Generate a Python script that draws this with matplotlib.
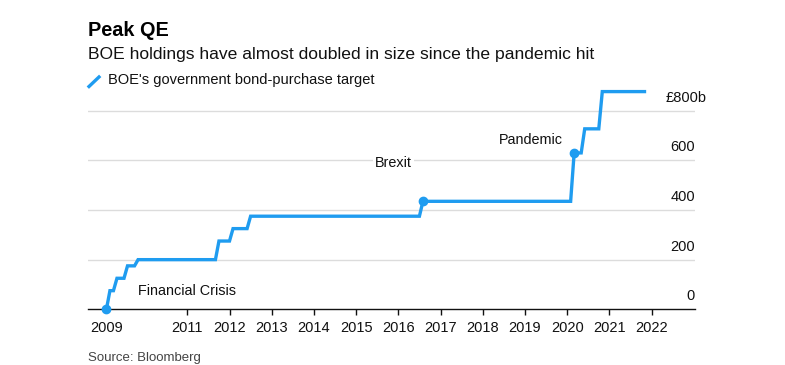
import matplotlib
matplotlib.use("Agg")
import matplotlib.pyplot as plt
from matplotlib.lines import Line2D
from matplotlib import transforms

plt.rcParams['font.family'] = ['Liberation Sans', 'DejaVu Sans']

# ---- data ----
months = ["2009-02", "2009-03", "2009-04", "2009-05", "2009-07", "2009-08",
          "2009-10", "2009-11", "2011-09", "2011-10", "2012-01", "2012-02",
          "2012-06", "2012-07", "2016-07", "2016-08", "2020-02", "2020-03",
          "2020-05", "2020-06", "2020-10", "2020-11", "2021-11"]
target_bn = [0, 75, 75, 125, 125, 175,
             175, 200, 200, 275, 275, 325,
             325, 375, 375, 435, 435, 630,
             630, 727, 727, 877, 877]
marked_months = ["2009-02", "2016-08", "2020-03"]
year_ticks = [2011, 2012, 2013, 2014, 2015, 2016, 2017, 2018, 2019, 2020, 2021, 2022]
y_ticks = [0, 200, 400, 600, 800]
y_labels = ["0", "200", "400", "600", "£800b"]
annotations = [("Financial Crisis", 2009.83, 58, "left"),
               ("Brexit", 2016.33, 574, "right"),
               ("Pandemic", 2019.90, 665, "right")]


def to_year(m):
    y, mo = m.split("-")
    return int(y) + (int(mo) - 1) / 12.0


x = [to_year(m) for m in months]
mx = [to_year(m) for m in marked_months]
my = [target_bn[months.index(m)] for m in marked_months]

W, H = 785, 365
fig = plt.figure(figsize=(W / 100, H / 100), dpi=100)
ax = fig.add_axes([88 / W, 0.1526, (695 - 88) / W, 0.6121])

blue = "#1f9cf0"
ink = "#111111"
ax.set_xlim(2008.647, 2023.03)
ax.set_ylim(0, 900)

for v in y_ticks[1:]:
    ax.axhline(v, color="#dcdcdc", lw=1.0, zorder=0)

ax.plot(x, target_bn, color=blue, lw=2.4, solid_joinstyle="miter", zorder=3)
ax.plot(mx, my, "o", color=blue, ms=6, zorder=4, clip_on=False)

for s in ["top", "right", "left"]:
    ax.spines[s].set_visible(False)
ax.spines["bottom"].set_color(ink)
ax.spines["bottom"].set_linewidth(1.0)
ax.spines["bottom"].set_zorder(2)

ax.set_yticks([])
xt = [x[0]] + year_ticks
ax.set_xticks(xt)
ax.set_xticklabels(["2009"] + [str(y) for y in year_ticks], fontsize=10.5, color=ink)
ax.tick_params(axis="x", length=4.5, width=1, color=ink, pad=4)
ax.xaxis.get_major_ticks()[0].tick1line.set_visible(False)

for v, lab in zip(y_ticks, y_labels):
    dx = 12 if lab.endswith("b") else 0
    tr = transforms.offset_copy(ax.get_yaxis_transform(), fig=fig, x=dx, y=9, units="dots")
    ax.text(1.0, v, lab, transform=tr, ha="right", va="baseline",
            fontsize=10.5, color=ink)

for txt, ax_x, ax_y, ha in annotations:
    t = ax.text(ax_x, ax_y, txt, ha=ha, va="baseline", fontsize=10.4, color=ink, zorder=2)
    if txt == "Brexit":
        t.set_bbox(dict(facecolor="white", edgecolor="none", pad=1.5))

def fy(py):
    return 1 - py / H

fig.text(88 / W, fy(35.7), "Peak QE", fontsize=14.3, fontweight="bold",
         va="baseline", ha="left", color="#000000")
fig.text(88 / W, fy(59.3), "BOE holdings have almost doubled in size since the pandemic hit",
         fontsize=12.6, va="baseline", ha="left", color=ink)
fig.add_artist(Line2D([89 / W, 99 / W], [fy(86.5), fy(77)], color=blue, lw=2.4,
                      transform=fig.transFigure))
fig.text(107.5 / W, fy(84), "BOE's government bond-purchase target",
         fontsize=10.5, va="baseline", ha="left", color=ink)
fig.text(88 / W, fy(361), "Source: Bloomberg", fontsize=9.5, va="baseline",
         ha="left", color="#444444")

fig.savefig("out.png", dpi=100)
